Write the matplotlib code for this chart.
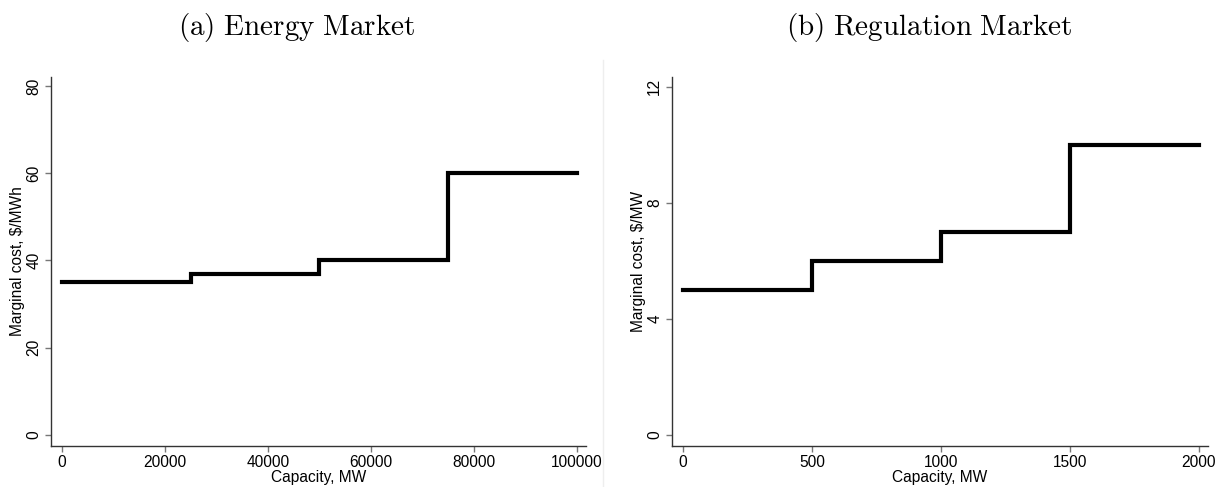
import matplotlib
matplotlib.use("Agg")
import matplotlib.pyplot as plt
from matplotlib.lines import Line2D

plt.rcParams['font.family'] = ['Liberation Sans', 'DejaVu Sans']
plt.rcParams['mathtext.fontset'] = 'cm'

# Panel (a): energy market supply curve
energy_capacity = [0, 25000, 50000, 75000, 100000]
energy_cost = [35, 37, 40, 60, 60]
energy_xticks = [0, 20000, 40000, 60000, 80000, 100000]
energy_yticks = [0, 20, 40, 60, 80]

# Panel (b): regulation market supply curve
reg_capacity = [0, 500, 1000, 1500, 2000]
reg_cost = [5, 6, 7, 10, 10]
reg_xticks = [0, 500, 1000, 1500, 2000]
reg_yticks = [0, 4, 8, 12]

W, H = 1222, 487
fig = plt.figure(figsize=(W / 100, H / 100), dpi=100)

def add_ax(l, r, t, b):
    return fig.add_axes([l / W, 1 - b / H, (r - l) / W, (b - t) / H])

ax1 = add_ax(51, 586, 77, 446)
ax2 = add_ax(672, 1208, 77, 446)

FS = 11.2

def style(ax, xs, ys, xt, yt, xlim, ylim, ylabel):
    ax.step(xs, ys, where='post', color='black', lw=3.0, solid_joinstyle='miter')
    ax.set_xlim(*xlim)
    ax.set_ylim(*ylim)
    ax.set_xticks(xt)
    ax.set_yticks(yt)
    ax.set_xticklabels([str(v) for v in xt], fontsize=FS)
    ax.set_yticklabels([str(v) for v in yt], fontsize=FS, rotation=90, va='center')
    ax.spines['top'].set_visible(False)
    ax.spines['right'].set_visible(False)
    for s in ('left', 'bottom'):
        ax.spines[s].set_color('#333333')
        ax.spines[s].set_linewidth(1.0)
    ax.tick_params(axis='both', length=4, width=1.0, color='#777777', pad=3, labelcolor='black')
    ax.tick_params(axis='x', pad=2.5)
    ax.set_xlabel('Capacity, MW', fontsize=FS, labelpad=0)
    ax.set_ylabel(ylabel, fontsize=FS, labelpad=1)

style(ax1, energy_capacity, energy_cost, energy_xticks, energy_yticks,
      (-2130, 101750), (-2.52, 82.06), 'Marginal cost, $/MWh')
style(ax2, reg_capacity, reg_cost, reg_xticks, reg_yticks,
      (-42.6, 2035), (-0.38, 12.34), 'Marginal cost, $/MW')

fig.text(297 / W, 1 - 28 / H, r'$\mathrm{(a)\ Energy\ Market}$', ha='center', va='center', fontsize=21)
fig.text(929 / W, 1 - 28 / H, r'$\mathrm{(b)\ Regulation\ Market}$', ha='center', va='center', fontsize=21)

fig.add_artist(Line2D([603 / W, 603 / W], [0, 1 - 60 / H], color='#eeeeee', lw=1.0))

fig.savefig('out.png', dpi=100)
